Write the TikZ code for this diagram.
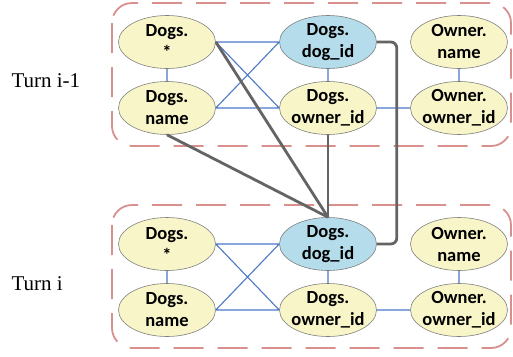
\documentclass[tikz,border=0pt]{standalone}
\usepackage{fontspec}
\setmainfont{Liberation Serif}
\newfontfamily\calfont{Carlito}
\usetikzlibrary{positioning,shapes.geometric,calc}
\definecolor{amarillo}{HTML}{F8F5C8}
\definecolor{celeste}{HTML}{B4DCEA}
\definecolor{borde}{HTML}{7F7F7F}
\definecolor{azul}{HTML}{4A78C8}
\definecolor{grisosc}{HTML}{646464}
\definecolor{rosa}{HTML}{D9908D}
\tikzset{
  col/.style={ellipse, draw=borde, line width=0.6pt, fill=amarillo,
    minimum width=97pt, minimum height=53pt, inner xsep=-10pt, inner ysep=-4pt,
    align=center, font=\calfont\bfseries\fontsize{18.5}{22}\selectfont},
  llave/.style={col, fill=celeste},
  enlace/.style={azul, line width=1.1pt},
  salto/.style={grisosc, line width=2.8pt},
  turno/.style={rosa, line width=1.8pt, dash pattern=on 30pt off 14pt,
    rounded corners=20pt},
}

\begin{document}
\begin{tikzpicture}[x=1pt, y=-1pt]
    \useasboundingbox (0,0) rectangle (513,356);
    \foreach \t/\y in {A/0, B/202} {
      \draw[turno] (112,{3+\y}) rectangle (511,{146+\y});
      \node[col] (star\t) at (167,{42+\y}) {Dogs.\\ *};
      \node[col] (name\t) at (167,{108+\y}) {Dogs.\\ name};
      \node[llave] (dogid\t) at (328,{42+\y}) {Dogs.\\ dog\_id};
      \node[col] (ownid\t) at (328,{108+\y}) {Dogs.\\ owner\_id};
      \node[col] (oname\t) at (459,{42+\y}) {Owner.\\ name};
      \node[col] (oown\t) at (459,{108+\y}) {Owner.\\ owner\_id};
      \draw[enlace] (star\t) -- (name\t) (dogid\t) -- (ownid\t)
        (oname\t) -- (oown\t) (ownid\t) -- (oown\t)
        (star\t.east) -- (dogid\t.west) (star\t.east) -- (ownid\t.west)
        (name\t.east) -- (dogid\t.west) (name\t.east) -- (ownid\t.west);
    }
    \node[anchor=base west, font=\fontsize{21}{24}\selectfont] (turnA) at (8,87) {Turn i-1};
    \node[anchor=base west, font=\fontsize{21}{24}\selectfont] (turnB) at (8,290) {Turn i};
    % saltos entre turnos
    \draw[salto] (starA.east) -- (dogidB.north);
    \draw[salto] (nameA.south) -- (dogidB.north);
    \draw[salto] (ownidA.south) -- (dogidB.north);
    \draw[salto, rounded corners=6pt] (dogidA.east) -- ++(20,0) |- (dogidB.east);
\end{tikzpicture}
\end{document}
